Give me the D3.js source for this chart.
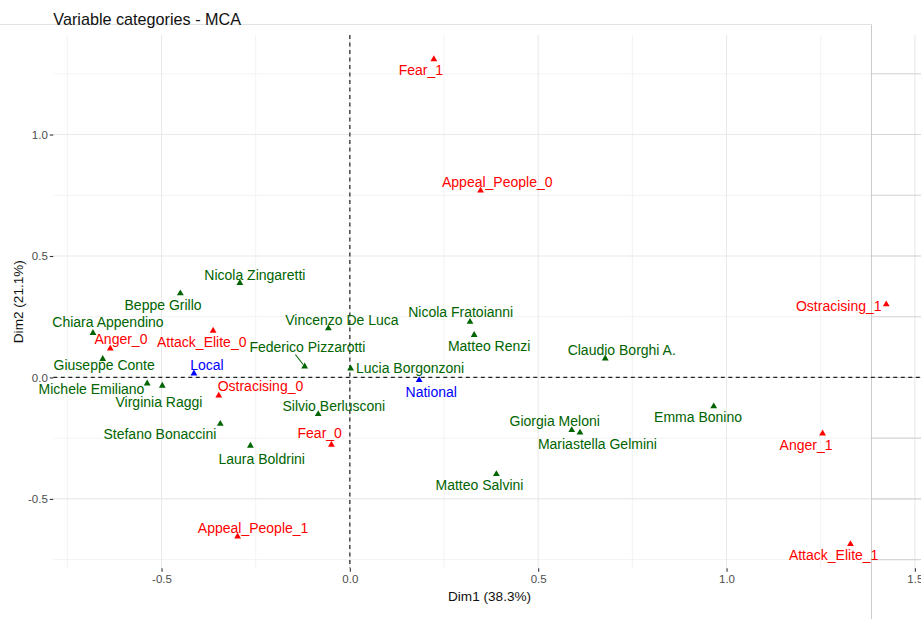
<!DOCTYPE html>
<html>
<head>
<meta charset="utf-8">
<script src="https://cdn.jsdelivr.net/npm/d3@7"></script>
<style>
body { margin: 0; background: #fff; }
svg { display: block; font-family: "Liberation Sans", Arial, sans-serif; }
</style>
</head>
<body>
<div id="chart"></div>
<script>
// MCA coordinates
var categories = [
	"Fear_1", "Appeal_People_0", "Ostracising_1", "Anger_1", "Attack_Elite_1",
	"Appeal_People_1", "Fear_0", "Ostracising_0", "Attack_Elite_0", "Anger_0",
	"Local", "National",
	"Nicola Zingaretti", "Beppe Grillo", "Chiara Appendino", "Giuseppe Conte",
	"Michele Emiliano", "Virginia Raggi", "Stefano Bonaccini", "Laura Boldrini",
	"Silvio Berlusconi", "Federico Pizzarotti", "Vincenzo De Luca", "Lucia Borgonzoni",
	"Nicola Fratoianni", "Matteo Renzi", "Claudio Borghi A.", "Giorgia Meloni",
	"Mariastella Gelmini", "Emma Bonino", "Matteo Salvini"
];
var dim1 = [
	0.223, 0.347, 1.424, 1.255, 1.329,
	-0.298, -0.049, -0.348, -0.363, -0.636,
	-0.414, 0.184,
	-0.292, -0.450, -0.682, -0.656,
	-0.538, -0.498, -0.344, -0.264,
	-0.084, -0.120, -0.057, 0.002,
	0.319, 0.330, 0.678, 0.589,
	0.611, 0.966, 0.389
];
var dim2 = [
	1.310, 0.769, 0.301, -0.231, -0.686,
	-0.655, -0.277, -0.075, 0.192, 0.119,
	0.016, -0.011,
	0.389, 0.346, 0.183, 0.076,
	-0.025, -0.034, -0.191, -0.281,
	-0.151, 0.045, 0.202, 0.037,
	0.229, 0.175, 0.078, -0.217,
	-0.227, -0.119, -0.398
];
var groups = [
	"active", "active", "active", "active", "active",
	"active", "active", "active", "active", "active",
	"level", "level",
	"politician", "politician", "politician", "politician",
	"politician", "politician", "politician", "politician",
	"politician", "politician", "politician", "politician",
	"politician", "politician", "politician", "politician",
	"politician", "politician", "politician"
];

var xTicks = [-0.5, 0, 0.5, 1, 1.5],
	xTickLabels = ["-0.5", "0.0", "0.5", "1.0", "1.5"],
	yTicks = [-0.5, 0, 0.5, 1],
	yTickLabels = ["-0.5", "0.0", "0.5", "1.0"],
	xMinor = [-0.75, -0.25, 0.25, 0.75, 1.25],
	yMinor = [-0.75, -0.25, 0.25, 0.75, 1.25];

// repelled label placement (pixels from the point)
var labelNudge = [
	[-13, 11], [16.7, -8.3], [-47.5, 1.3], [-16.5, 11.3], [-16.8, 11],
	[15.5, -8], [-11.7, -11.7], [41.7, -10], [-11.4, 11.7], [10.7, -9.4],
	[13, -8.4], [12.1, 11.7],
	[15, -8.3], [-17.3, 11.6], [15, -11.3], [1.4, 6.5],
	[-55.7, 5.6], [-3.3, 16.7], [-60.4, 10], [11.3, 13.3],
	[15.6, -8.3], [2.7, -19.7], [13.6, -8.7], [59.5, 0],
	[-9.3, -10], [15, 11], [16.5, -8.4], [-17, -8.6],
	[17.4, 11.6], [-15.7, 11], [-16.9, 11]
];
var leaders = { "Federico Pizzarotti": [-12, 7.7] };

var colors = { active: "#ff0000", politician: "#006400", level: "#0000ff" };

var width = 921, height = 619,
	panel = { left: 53.3, right: 925.9, top: 35, bottom: 568.3 };

function expand(values) {
	var ext = d3.extent(values), pad = (ext[1] - ext[0]) * 0.05;
	return [ext[0] - pad, ext[1] + pad];
}

var x = d3.scaleLinear().domain(expand(dim1)).range([panel.left, panel.right]);
var y = d3.scaleLinear().domain(expand(dim2)).range([panel.bottom, panel.top]);

var svg = d3.select("#chart").append("svg")
	.attr("width", width)
	.attr("height", height);

svg.append("defs").append("clipPath").attr("id", "clip")
	.append("rect")
	.attr("x", panel.left).attr("y", panel.top)
	.attr("width", panel.right - panel.left)
	.attr("height", panel.bottom - panel.top);

var grid = svg.append("g").attr("clip-path", "url(#clip)");

grid.selectAll(".xminor").data(xMinor).enter().append("line")
	.attr("x1", function(d) { return x(d); }).attr("x2", function(d) { return x(d); })
	.attr("y1", panel.top).attr("y2", panel.bottom)
	.attr("stroke", "#f3f3f3").attr("stroke-width", 1);
grid.selectAll(".yminor").data(yMinor).enter().append("line")
	.attr("y1", function(d) { return y(d); }).attr("y2", function(d) { return y(d); })
	.attr("x1", panel.left).attr("x2", panel.right)
	.attr("stroke", "#f3f3f3").attr("stroke-width", 1);
grid.selectAll(".xmajor").data(xTicks).enter().append("line")
	.attr("x1", function(d) { return x(d); }).attr("x2", function(d) { return x(d); })
	.attr("y1", panel.top).attr("y2", panel.bottom)
	.attr("stroke", "#e9e9e9").attr("stroke-width", 1.1);
grid.selectAll(".ymajor").data(yTicks).enter().append("line")
	.attr("y1", function(d) { return y(d); }).attr("y2", function(d) { return y(d); })
	.attr("x1", panel.left).attr("x2", panel.right)
	.attr("stroke", "#e9e9e9").attr("stroke-width", 1.1);

// stray frame lines from the original screenshot
svg.append("line").attr("x1", 0).attr("x2", 871.5).attr("y1", 24.5).attr("y2", 24.5)
	.attr("stroke", "#e2e2e2").attr("stroke-width", 1);
svg.append("line").attr("x1", 871.5).attr("x2", 871.5).attr("y1", 24.5).attr("y2", height)
	.attr("stroke", "#cccccc").attr("stroke-width", 1);
svg.selectAll(".stray").data(yTicks.concat(yMinor)).enter().append("line")
	.attr("y1", function(d) { return y(d); }).attr("y2", function(d) { return y(d); })
	.attr("x1", 872).attr("x2", width)
	.attr("stroke", "#d6d6d6").attr("stroke-width", 1.1);

// axes
var xAxis = d3.axisBottom(x).tickValues(xTicks)
	.tickFormat(function(d, i) { return xTickLabels[i]; })
	.tickSize(3.5).tickPadding(3);
var yAxis = d3.axisLeft(y).tickValues(yTicks)
	.tickFormat(function(d, i) { return yTickLabels[i]; })
	.tickSize(3.5).tickPadding(2);

var gx = svg.append("g").attr("transform", "translate(0," + panel.bottom + ")").call(xAxis);
var gy = svg.append("g").attr("transform", "translate(" + panel.left + ",0)").call(yAxis);
[gx, gy].forEach(function(g) {
	g.select(".domain").remove();
	g.selectAll(".tick line").attr("stroke", "#333").attr("stroke-width", 1.1);
	g.selectAll(".tick text").attr("fill", "#4d4d4d")
		.style("font-size", "11.5px").style("font-family", "'Liberation Sans', Arial, sans-serif");
});

// zero reference lines
svg.append("line")
	.attr("x1", panel.left).attr("x2", panel.right)
	.attr("y1", y(0)).attr("y2", y(0))
	.attr("stroke", "#222").attr("stroke-width", 1.2).attr("stroke-dasharray", "4,3.5");
svg.append("line")
	.attr("x1", x(0)).attr("x2", x(0))
	.attr("y1", panel.top).attr("y2", panel.bottom)
	.attr("stroke", "#222").attr("stroke-width", 1.2).attr("stroke-dasharray", "4,3.5");

// points
var triangle = d3.symbol().type(d3.symbolTriangle).size(20);
categories.forEach(function(name, i) {
	svg.append("path")
		.attr("d", triangle)
		.attr("transform", "translate(" + x(dim1[i]) + "," + y(dim2[i]) + ")")
		.attr("fill", colors[groups[i]]);
});

// leader segments
categories.forEach(function(name, i) {
	if (leaders[name]) {
		var px = x(dim1[i]), py = y(dim2[i]);
		var lx = px + labelNudge[i][0] + leaders[name][0],
			ly = py + labelNudge[i][1] + leaders[name][1];
		var dx = px - lx, dy = py - ly, len = Math.sqrt(dx * dx + dy * dy);
		svg.append("line")
			.attr("x1", lx).attr("y1", ly)
			.attr("x2", px - dx / len * 2.5).attr("y2", py - dy / len * 2.5)
			.attr("stroke", colors[groups[i]]).attr("stroke-width", 1.1);
	}
});

// labels
categories.forEach(function(name, i) {
	svg.append("text")
		.attr("x", x(dim1[i]) + labelNudge[i][0])
		.attr("y", y(dim2[i]) + labelNudge[i][1])
		.attr("dy", "0.35em")
		.attr("text-anchor", "middle")
		.attr("fill", colors[groups[i]])
		.style("font-size", "14px")
		.text(name);
});

// titles
svg.append("text")
	.attr("x", panel.left).attr("y", 24.5)
	.style("font-size", "16.2px").attr("fill", "#111")
	.text("Variable categories - MCA");
svg.append("text")
	.attr("x", (panel.left + panel.right) / 2).attr("y", 601)
	.attr("text-anchor", "middle")
	.style("font-size", "13.6px").attr("fill", "#111")
	.text("Dim1 (38.3%)");
svg.append("text")
	.attr("transform", "translate(23," + ((panel.top + panel.bottom) / 2) + ") rotate(-90)")
	.attr("text-anchor", "middle")
	.style("font-size", "13.6px").attr("fill", "#111")
	.text("Dim2 (21.1%)");
</script>
</body>
</html>
